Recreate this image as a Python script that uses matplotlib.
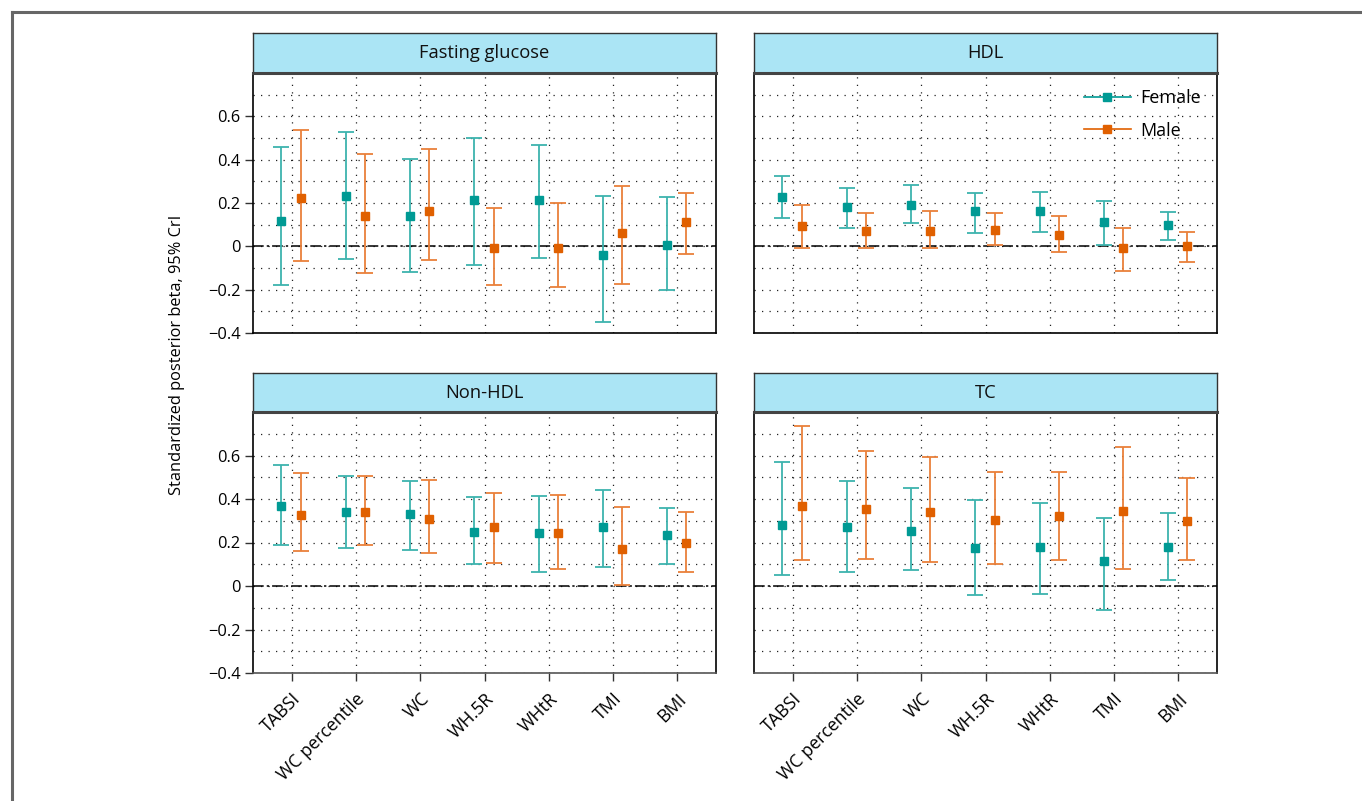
import matplotlib
matplotlib.use("Agg")
import matplotlib.pyplot as plt
import numpy as np
from matplotlib.lines import Line2D

plt.rcParams['font.family'] = ['Open Sans', 'DejaVu Sans']

categories = ["TABSI", "WC percentile", "WC", "WH.5R", "WHtR", "TMI", "BMI"]
panels = ["Fasting glucose", "HDL", "Non-HDL", "TC"]

# Female: estimate, lower, upper
fg_f_est = [0.116, 0.232, 0.139, 0.215, 0.216, -0.039, 0.008]
fg_f_lo = [-0.178, -0.059, -0.117, -0.085, -0.056, -0.351, -0.201]
fg_f_hi = [0.457, 0.529, 0.402, 0.502, 0.470, 0.232, 0.227]
fg_m_est = [0.224, 0.139, 0.165, -0.009, -0.009, 0.060, 0.114]
fg_m_lo = [-0.068, -0.124, -0.063, -0.179, -0.189, -0.172, -0.034]
fg_m_hi = [0.536, 0.428, 0.451, 0.176, 0.199, 0.280, 0.246]

hdl_f_est = [0.227, 0.182, 0.193, 0.162, 0.162, 0.111, 0.100]
hdl_f_lo = [0.131, 0.083, 0.107, 0.060, 0.068, 0.008, 0.031]
hdl_f_hi = [0.325, 0.270, 0.281, 0.247, 0.253, 0.209, 0.159]
hdl_m_est = [0.093, 0.073, 0.073, 0.077, 0.054, -0.008, 0.003]
hdl_m_lo = [-0.008, -0.008, -0.009, 0.008, -0.025, -0.116, -0.070]
hdl_m_hi = [0.189, 0.153, 0.161, 0.153, 0.141, 0.083, 0.068]

nhdl_f_est = [0.367, 0.342, 0.333, 0.250, 0.244, 0.269, 0.235]
nhdl_f_lo = [0.189, 0.173, 0.167, 0.103, 0.066, 0.089, 0.103]
nhdl_f_hi = [0.557, 0.505, 0.485, 0.407, 0.413, 0.443, 0.359]
nhdl_m_est = [0.328, 0.342, 0.308, 0.270, 0.244, 0.169, 0.196]
nhdl_m_lo = [0.160, 0.189, 0.150, 0.104, 0.080, 0.005, 0.066]
nhdl_m_hi = [0.520, 0.505, 0.489, 0.428, 0.420, 0.365, 0.342]

tc_f_est = [0.281, 0.273, 0.255, 0.173, 0.178, 0.115, 0.181]
tc_f_lo = [0.051, 0.066, 0.072, -0.043, -0.035, -0.109, 0.028]
tc_f_hi = [0.568, 0.482, 0.451, 0.396, 0.382, 0.313, 0.336]
tc_m_est = [0.367, 0.354, 0.342, 0.304, 0.321, 0.344, 0.298]
tc_m_lo = [0.121, 0.126, 0.110, 0.103, 0.120, 0.080, 0.120]
tc_m_hi = [0.737, 0.621, 0.595, 0.522, 0.526, 0.637, 0.497]

yticks = [-0.4, -0.2, 0, 0.2, 0.4, 0.6]
ytick_labels = ["\u22120.4", "\u22120.2", "0", "0.2", "0.4", "0.6"]

data = {
    "Fasting glucose": ((fg_f_est, fg_f_lo, fg_f_hi), (fg_m_est, fg_m_lo, fg_m_hi)),
    "HDL": ((hdl_f_est, hdl_f_lo, hdl_f_hi), (hdl_m_est, hdl_m_lo, hdl_m_hi)),
    "Non-HDL": ((nhdl_f_est, nhdl_f_lo, nhdl_f_hi), (nhdl_m_est, nhdl_m_lo, nhdl_m_hi)),
    "TC": ((tc_f_est, tc_f_lo, tc_f_hi), (tc_m_est, tc_m_lo, tc_m_hi)),
}

FEMALE = "#009A94"
FEMALE_E = "#3DB3AE"
MALE = "#E06000"
MALE_E = "#E9803A"
W, H = 1362, 801
fig = plt.figure(figsize=(W / 100, H / 100), dpi=100)

# outer frame (top and left edges visible)
fig.add_artist(Line2D([12 / W, 1], [1 - 12 / H, 1 - 12 / H], color="#666666", lw=2.2, transform=fig.transFigure))
fig.add_artist(Line2D([12 / W, 12 / W], [1 - 12 / H, 0], color="#666666", lw=2.2, transform=fig.transFigure))

lefts = [253, 754]
pw = 463
rows = [(33, 73, 333), (373, 412, 673)]

x = np.arange(1, len(categories) + 1)

for i, name in enumerate(panels):
    r, c = divmod(i, 2)
    st, top, bot = rows[r]
    L = lefts[c]
    ax = fig.add_axes([L / W, 1 - bot / H, pw / W, (bot - top) / H])
    sax = fig.add_axes([L / W, 1 - top / H, pw / W, (top - st) / H])
    sax.set_facecolor("#ABE5F5")
    sax.set_xticks([]); sax.set_yticks([])
    for s in sax.spines.values():
        s.set_color("#333333"); s.set_linewidth(1.0)
    sax.spines["bottom"].set_linewidth(2.2)
    sax.spines["bottom"].set_color("#444444")
    sax.text(0.5, 0.5, name, ha="center", va="center", fontsize=13.2, transform=sax.transAxes, color="#111111")

    (fe, flo, fhi), (me, mlo, mhi) = data[name]
    fe = np.array(fe); flo = np.array(flo); fhi = np.array(fhi)
    me = np.array(me); mlo = np.array(mlo); mhi = np.array(mhi)

    ax.set_xlim(0.4, 7.6)
    ax.set_ylim(-0.4, 0.8)
    ax.set_yticks(yticks)
    ax.set_yticks(np.arange(-0.3, 0.8, 0.1), minor=True)
    ax.set_xticks(x)
    ax.grid(which="major", axis="x", color="#222222", linestyle=(0, (1, 5)), lw=0.9)
    ax.grid(which="minor", axis="y", color="#222222", linestyle=(0, (1, 5)), lw=0.9)
    ax.grid(which="major", axis="y", color="#222222", linestyle=(0, (1, 5)), lw=0.9)
    ax.tick_params(axis="y", which="minor", length=0)
    ax.axhline(0, color="black", lw=1.1, linestyle=(0, (7, 2, 1.5, 2)), zorder=2)

    ax.errorbar(x - 0.16, fe, yerr=[fe - flo, fhi - fe], fmt="s", color=FEMALE, ecolor=FEMALE_E,
                elinewidth=1.3, capsize=5.6, capthick=1.3, markersize=5.5, zorder=3, label="Female")
    ax.errorbar(x + 0.14, me, yerr=[me - mlo, mhi - me], fmt="s", color=MALE, ecolor=MALE_E,
                elinewidth=1.3, capsize=5.6, capthick=1.3, markersize=5.5, zorder=3, label="Male")

    for s in ax.spines.values():
        s.set_color("black"); s.set_linewidth(1.2)

    if c == 0:
        ax.set_yticklabels(ytick_labels, fontsize=11.8)
        ax.tick_params(axis="y", which="major", length=6, width=1, color="#333333", pad=3)
    else:
        ax.tick_params(axis="y", which="major", length=0, labelleft=False)
    if r == 1:
        ax.set_xticklabels(categories, rotation=45, ha="right", va="top", rotation_mode="anchor", fontsize=12.8)
        ax.tick_params(axis="x", length=6, width=1, color="#333333", pad=6)
        ax.spines["bottom"].set_color("#555555")
    else:
        ax.tick_params(axis="x", length=0, labelbottom=False)

    if name == "HDL":
        handles = [Line2D([0], [0], color=FEMALE, marker="s", markersize=6, lw=1.2),
                   Line2D([0], [0], color=MALE, marker="s", markersize=6, lw=1.2)]
        ax.legend(handles, ["Female", "Male"], loc="upper right", frameon=False, fontsize=13,
                  handlelength=2.6, handletextpad=0.5, labelspacing=0.8,
                  bbox_to_anchor=(1.0, 1.0))

fig.text(177 / W, 1 - 355 / H, "Standardized posterior beta, 95% CrI", rotation=90,
         ha="center", va="center", fontsize=11.8)

fig.savefig("out.png", dpi=100)
